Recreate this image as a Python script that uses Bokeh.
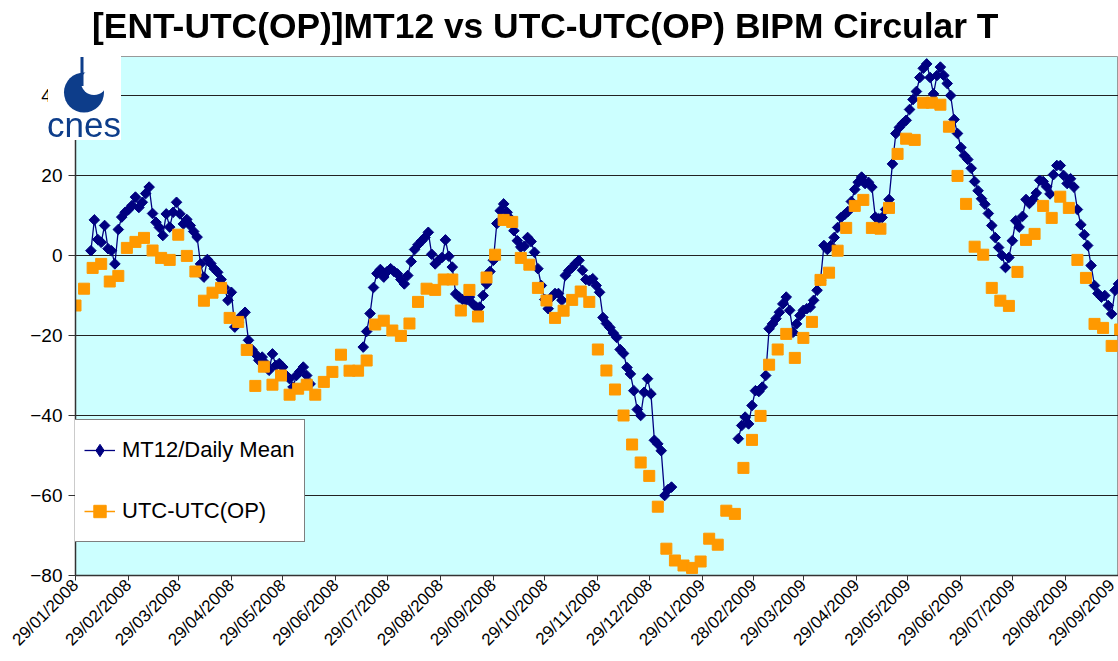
import numpy as np
from bokeh.plotting import figure
from bokeh.layouts import column
from bokeh.models import (FixedTicker, DatetimeTickFormatter, Range1d, Legend, LegendItem, Div)
from bokeh.embed import file_html
from bokeh.resources import INLINE

# ---------------- data ----------------
TITLE = "[ENT-UTC(OP)]MT12 vs UTC-UTC(OP) BIPM Circular T"

x_tick_dates = ["2008-01-29", "2008-02-29", "2008-03-29", "2008-04-29", "2008-05-29",
                "2008-06-29", "2008-07-29", "2008-08-29", "2008-09-29", "2008-10-29",
                "2008-11-29", "2008-12-29", "2009-01-29", "2009-02-28", "2009-03-29",
                "2009-04-29", "2009-05-29", "2009-06-29", "2009-07-29", "2009-08-29",
                "2009-09-29"]
y_ticks = [-80, -60, -40, -20, 0, 20, 40]

# UTC-UTC(OP) from BIPM Circular T, every 5 days from 29/01/2008
utc_start = "2008-01-29"
utc_step_days = 5
utc_op = [-12.5, -8.3, -3.1, -2.1, -6.5, -5.1, 1.9, 3.4, 4.4, 1.25,
          -0.6, -1.1, 5.2, -0.1, -4.0, -11.3, -9.3, -8.1, -15.6, -16.6,
          -23.6, -32.6, -27.8, -32.3, -30.0, -34.8, -33.3, -32.3, -34.8, -31.6,
          -29.1, -24.8, -28.8, -28.8, -26.25, -17.25, -16.3, -18.75, -20.1, -17.0,
          -11.6, -8.3, -8.6, -6.0, -6.0, -13.75, -8.6, -15.25, -5.5, 0.2,
          8.9, 8.4, -0.6, -2.3, -8.1, -11.25, -15.6, -13.8, -11.1, -9.0,
          -11.6, -23.5, -28.75, -33.5, -40.0, -47.25, -51.75, -55.1, -62.8, -73.3,
          -76.25, -77.5, -78.1, -76.5, -70.8, -72.3, -63.8, -64.6, -53.1, -46.1,
          -40.1, -27.3, -23.5, -19.6, -25.6, -20.6, -16.6, -6.1, -4.3, 1.2,
          6.9, 12.4, 13.9, 6.9, 6.7, 11.9, 25.4, 29.2, 28.9, 38.2,
          38.2, 37.7, 32.2, 19.9, 12.9, 2.2, 0.2, -8.1, -11.3, -12.6,
          -4.1, 3.9, 5.4, 12.4, 9.4, 14.7, 11.9, -1.1, -5.6, -17.1,
          -18.1, -22.6, -18.5]

# [ENT-UTC(OP)]MT12 daily mean, three recorded periods (one value every 2 days)
mt12_step_days = 2
mt12_seg1_start = "2008-02-07"
mt12_seg1 = [1.2, 8.9, 4.0, 3.3, 7.5, 1.7, 1.2, -2.1, 6.5, 9.6,
             10.8, 11.5, 12.5, 14.6, 12.0, 13.3, 15.5, 17.1, 10.5, 8.3,
             7.0, 5.0, 10.4, 7.1, 10.8, 13.3, 10.4, 7.9, 9.0, 7.5,
             6.0, 4.6, -2.1, -5.4, -1.0, -2.0, -3.3, -4.2, -6.0, -8.0,
             -11.2, -9.2, -17.9, -16.7, -15.0, -14.2, -21.2, -23.5, -24.6, -26.2,
             -25.4, -27.0, -28.7, -24.6, -27.5, -27.0, -27.9, -30.0, -30.8, -32.9,
             -30.0, -29.0, -27.9, -30.0, -32.1]
mt12_seg2_start = "2008-07-15"
mt12_seg2 = [-22.9, -19.0, -14.5, -8.0, -4.5, -3.5, -5.4, -4.0, -3.3, -4.0,
             -4.6, -6.0, -7.1, -5.0, -1.5, 1.5, 2.7, 3.6, 4.5, 5.8,
             0.3, -2.1, -1.2, -0.5, 3.9, -0.2, -2.9, -9.6, -10.4, -11.0,
             -11.2, -10.4, -12.1, -12.9, -12.9, -10.0, -7.1, -4.0, -1.2, 8.0,
             11.2, 12.9, 10.8, 9.2, 6.2, 3.7, 2.1, 2.3, 4.5, 3.5,
             0.8, -3.3, -7.5, -11.0, -13.3, -10.4, -9.5, -9.5, -11.2, -5.0,
             -3.8, -3.0, -2.0, -1.2, -3.7, -6.0, -6.3, -5.8, -7.5, -9.2,
             -15.5, -17.0, -18.0, -19.4, -20.5, -23.5, -24.5, -28.0, -29.6, -33.8,
             -38.5, -40.0, -34.2, -30.8, -34.6, -46.2, -47.1, -48.8, -60.0, -58.5,
             -57.9]
mt12_seg3_start = "2009-02-19"
mt12_seg3 = [-45.8, -42.5, -40.4, -42.1, -37.5, -33.8, -34.0, -32.9, -30.0, -18.3,
             -17.1, -15.8, -14.2, -12.1, -10.4, -13.7, -19.2, -17.1, -15.0, -13.7,
             -13.3, -12.9, -11.2, -8.7, -6.2, 2.5, 1.5, 2.5, 4.5, 7.0,
             9.5, 10.2, 11.0, 13.5, 16.5, 18.3, 19.6, 18.0, 18.3, 17.1,
             9.6, 9.2, 9.5, 11.5, 14.0, 22.9, 30.5, 32.0, 33.0, 33.8,
             36.5, 39.0, 41.0, 44.5, 46.8, 47.9, 44.5, 40.4, 45.0, 47.1,
             45.0, 43.0, 40.0, 34.0, 30.5, 27.0, 25.0, 24.0, 21.8, 18.5,
             16.2, 14.2, 12.8, 10.5, 7.5, 4.5, 2.0, 0.0, -3.0, -0.5,
             3.7, 8.7, 7.1, 9.8, 14.0, 13.0, 14.0, 15.6, 18.8, 18.5,
             17.2, 15.4, 20.2, 22.5, 22.5, 20.0, 18.0, 19.2, 17.1, 11.5,
             7.7, 5.2, 2.5, -2.5, -7.5, -9.5, -10.4, -10.0, -12.5, -14.6,
             -8.7, -7.1]

# ---------------- helpers ----------------
DAY_MS = 86400000.0


def to_ms(s):
    return float(np.datetime64(s, "ms").astype("int64"))


def dates_ms(start, n, step):
    return to_ms(start) + np.arange(n) * step * DAY_MS


NAVY = "#000080"
ORANGE = "#FF9900"
FONT = "Liberation Sans"

x_start = to_ms(x_tick_dates[0])
x_end = to_ms(x_tick_dates[-1])
y_lo, y_hi = -80, 49.75

p = figure(width=1118, height=660, x_axis_type="datetime",
           output_backend="svg", toolbar_location=None,
           x_range=Range1d(x_start, x_end), y_range=Range1d(y_lo, y_hi),
           min_border_left=75, min_border_right=0, min_border_top=56,
           min_border_bottom=85)
p.background_fill_color = "#CCFFFF"
p.border_fill_color = "white"
p.outline_line_color = "#999999"
p.outline_line_width = 1

# axes
p.xaxis.ticker = FixedTicker(ticks=[to_ms(d) for d in x_tick_dates])
fmt = "%d/%m/%Y"
p.xaxis.formatter = DatetimeTickFormatter(
    microseconds=fmt, milliseconds=fmt, seconds=fmt, minsec=fmt, minutes=fmt,
    hourmin=fmt, hours=fmt, days=fmt, months=fmt, years=fmt)
p.xaxis.major_label_orientation = np.pi / 4
p.xaxis.major_label_text_font = FONT
p.xaxis.major_label_text_font_size = "17px"
p.xaxis.major_label_text_color = "black"
p.xaxis.major_tick_out = 5
p.xaxis.major_tick_in = 0
p.xaxis.minor_tick_out = 0
p.xaxis.minor_tick_in = 0
p.xaxis.major_label_standoff = 2

p.yaxis.ticker = FixedTicker(ticks=y_ticks)
p.yaxis.major_label_text_font = FONT
p.yaxis.major_label_text_font_size = "19px"
p.yaxis.major_label_text_color = "black"
p.yaxis.major_tick_out = 7
p.yaxis.major_tick_in = 0
p.yaxis.minor_tick_out = 0
p.yaxis.minor_tick_in = 0
p.yaxis.major_label_standoff = 6

for ax in (p.xaxis, p.yaxis):
    ax.axis_line_color = "#333333"
    ax.axis_line_width = 1.5
    ax.major_tick_line_color = "#333333"

p.xgrid.visible = False
p.ygrid.ticker = FixedTicker(ticks=y_ticks)
p.ygrid.grid_line_color = "#222222"
p.ygrid.grid_line_width = 1

# ---------------- series ----------------
segs = [(mt12_seg1_start, mt12_seg1), (mt12_seg2_start, mt12_seg2), (mt12_seg3_start, mt12_seg3)]
nx, ny = [], []
for i, (s, vals) in enumerate(segs):
    if i:
        nx.append(np.array([np.nan]))
        ny.append(np.array([np.nan]))
    nx.append(dates_ms(s, len(vals), mt12_step_days))
    ny.append(np.array(vals, dtype=float))
navy_x = np.concatenate(nx)
navy_y = np.concatenate(ny)

navy_line = p.line(navy_x, navy_y, line_color=NAVY, line_width=1.3)
p.scatter(navy_x, navy_y, marker="square", angle=np.pi / 4, size=7.5,
          fill_color=NAVY, line_color=NAVY)

utc_x = dates_ms(utc_start, len(utc_op), utc_step_days)
orange_sc = p.scatter(utc_x, utc_op, marker="square", size=11,
                      fill_color=ORANGE, line_color=ORANGE)

# legend-only glyphs
leg_diamond = p.scatter([np.nan], [np.nan], marker="diamond",
                        fill_color=NAVY, line_color=NAVY)
leg_orange_line = p.line([np.nan], [np.nan], line_color=ORANGE, line_width=1.5)

legend = Legend(items=[
    LegendItem(label="MT12/Daily Mean", renderers=[navy_line, leg_diamond]),
    LegendItem(label="UTC-UTC(OP)", renderers=[leg_orange_line, orange_sc]),
], location=(-2, 33))
legend.label_text_font = FONT
legend.label_text_font_size = "22px"
legend.label_text_color = "black"
legend.glyph_width = 31
legend.glyph_height = 40
legend.label_height = 40
legend.label_width = 168
legend.label_standoff = 7
legend.spacing = 21
legend.padding = 10
legend.margin = 0
legend.border_line_color = "black"
legend.border_line_width = 1
legend.background_fill_color = "white"
legend.background_fill_alpha = 1
p.add_layout(legend)

# ---------------- chart title (floating above the frame) ----------------
title_html = (
    f'<div style="font-family:\'{FONT}\';font-weight:bold;font-size:35.4px;'
    'line-height:35.4px;white-space:nowrap;color:black;margin:0;padding:0;">'
    f'{TITLE}</div>'
)
title_div = Div(text=title_html, width=1000, height=40, margin=0,
                styles={"position": "fixed", "left": "92px", "top": "9px", "z-index": "10"})

# ---------------- cnes logo (floating over the top-left corner) ----------------
LOGO = "#0d3d8a"
logo_html = (
    '<svg width="80" height="84" xmlns="http://www.w3.org/2000/svg" '
    'style="display:block;overflow:visible">'
    '<rect x="0" y="0" width="73" height="84" fill="white"/>'
    f'<circle cx="36" cy="36.5" r="20" fill="{LOGO}"/>'
    '<circle cx="46" cy="26" r="13" fill="white"/>'
    f'<rect x="32.5" y="1" width="3" height="29" fill="{LOGO}"/>'
    f'<text x="-1" y="80.5" font-family="{FONT}" font-size="35" fill="{LOGO}">cnes</text>'
    '</svg>'
)
logo = Div(text=logo_html, width=80, height=84, margin=0,
           styles={"position": "fixed", "left": "48px", "top": "56px", "z-index": "10"})

layout = column(p, title_div, logo)
open("out.html", "w").write(file_html(layout, INLINE))
